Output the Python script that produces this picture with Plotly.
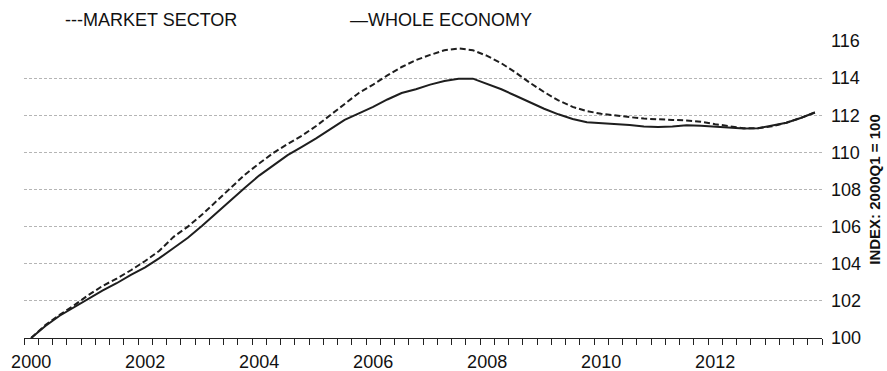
import plotly.graph_objects as go

# Quarterly index, 2000Q1 = 100
years = list(range(2000, 2014))
quarters = [1, 2, 3, 4]

whole_economy = [100.0, 100.65, 101.2, 101.65, 102.1, 102.55, 102.95, 103.4, 103.8, 104.3,
                 104.85, 105.4, 106.05, 106.75, 107.45, 108.1, 108.75, 109.3, 109.85, 110.3,
                 110.75, 111.25, 111.75, 112.1, 112.45, 112.85, 113.2, 113.4, 113.65, 113.85,
                 113.97, 113.97, 113.7, 113.4, 113.05, 112.7, 112.35, 112.05, 111.8, 111.62,
                 111.58, 111.52, 111.47, 111.4, 111.37, 111.4, 111.46, 111.43, 111.38, 111.33,
                 111.28, 111.3, 111.43, 111.6, 111.85, 112.15]

market_sector = [100.0, 100.7, 101.25, 101.75, 102.3, 102.8, 103.2, 103.65, 104.15, 104.7,
                 105.45, 106.0, 106.65, 107.35, 108.1, 108.8, 109.4, 109.97, 110.45, 110.9,
                 111.42, 112.0, 112.6, 113.2, 113.65, 114.15, 114.6, 114.97, 115.25, 115.5,
                 115.6, 115.5, 115.2, 114.8, 114.3, 113.75, 113.25, 112.8, 112.45, 112.22,
                 112.08, 111.97, 111.9, 111.82, 111.77, 111.75, 111.72, 111.65, 111.52, 111.4,
                 111.3, 111.3, 111.4, 111.6, 111.85, 112.15]

x_tick_labels = ["2000", "2002", "2004", "2006", "2008", "2010", "2012"]
y_tick_values = [100, 102, 104, 106, 108, 110, 112, 114, 116]

series_names = ["MARKET SECTOR", "WHOLE ECONOMY"]
legend_marks = ["---", "\u2014"]
y_title = "INDEX: 2000Q1 = 100"

# time position of each quarter (year + fraction)
t = [y + (q - 1) / 4 for y in years for q in quarters]

FONT = "Liberation Sans, Arial, sans-serif"

fig = go.Figure()
fig.add_trace(go.Scatter(x=t, y=market_sector, mode="lines", name=series_names[0],
                         line=dict(color="#1e1e1e", width=2, dash="6px,3px")))
fig.add_trace(go.Scatter(x=t, y=whole_economy, mode="lines", name=series_names[1],
                         line=dict(color="#1e1e1e", width=2)))

fig.update_layout(
    width=887, height=371,
    margin=dict(l=24, r=65, t=41, b=33, autoexpand=False),
    paper_bgcolor="white", plot_bgcolor="white",
    showlegend=False,
    font=dict(family=FONT, size=18, color="#111111"),
    xaxis=dict(
        automargin=False,
        range=[t[0] - 0.125, t[-1] + 0.125],
        tickmode="array",
        tickvals=[int(s) for s in x_tick_labels],
        ticktext=x_tick_labels,
        ticks="outside", ticklen=7, tickcolor="rgba(0,0,0,0)",
        showgrid=False, zeroline=False,
        showline=True, linecolor="#222222", linewidth=1,
        minor=dict(ticks="outside", ticklen=6, tickcolor="#222222", tickwidth=1,
                   tick0=t[0] - 0.125, dtick=0.25, showgrid=False),
        tickfont=dict(size=18),
    ),
    yaxis=dict(
        automargin=False,
        side="right",
        range=[100, 116],
        tickmode="array",
        tickvals=y_tick_values,
        ticks="", showline=False, zeroline=False,
        showgrid=True, gridcolor="#b5b5b5", gridwidth=1, griddash="3px,2px",
        tickfont=dict(size=18),
        ticklabelstandoff=8,
        title=dict(text="<b>" + y_title + "</b>", font=dict(size=15), standoff=9),
    ),
)

annotations = [
    dict(text=legend_marks[0] + series_names[0], xref="paper", yref="paper",
         x=(63 - 24) / 798, y=1, yshift=21, xanchor="left", yanchor="middle",
         showarrow=False, font=dict(size=18)),
    dict(text=legend_marks[1] + series_names[1], xref="paper", yref="paper",
         x=(348 - 24) / 798, y=1, yshift=21, xanchor="left", yanchor="middle",
         showarrow=False, font=dict(size=18)),
]
fig.update_layout(annotations=annotations)

fig.write_html("out.html",
               config={"displayModeBar": False},
               post_script="document.body.style.margin='0';document.body.style.overflow='hidden';")
